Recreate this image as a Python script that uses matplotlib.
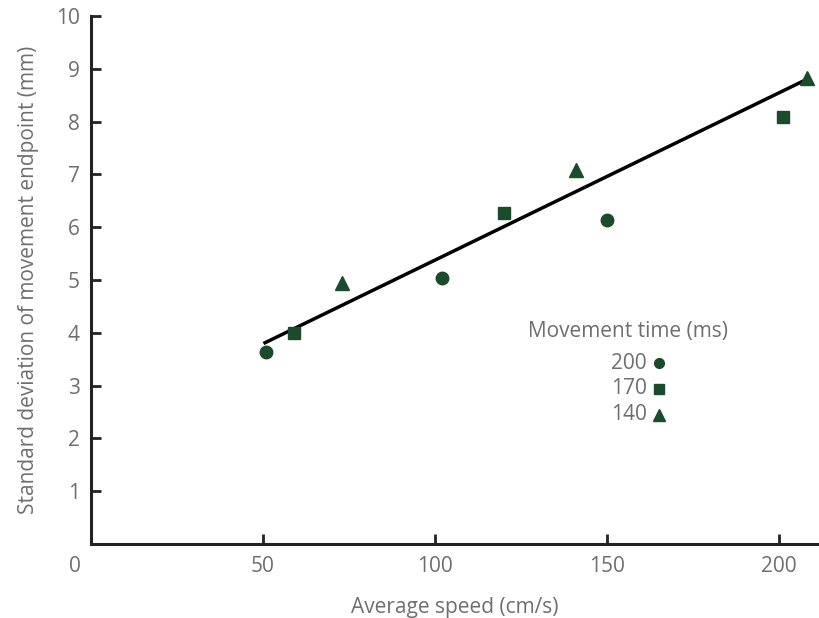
import matplotlib.pyplot as plt

plt.rcParams['font.family'] = ['Open Sans', 'DejaVu Sans']

# data
speed_200 = [51, 102, 150]
sd_200 = [3.64, 5.04, 6.14]
speed_170 = [59, 120, 201]
sd_170 = [4.0, 6.27, 8.09]
speed_140 = [73, 141, 208]
sd_140 = [4.94, 7.08, 8.83]

# regression line endpoints
fit_x = [50.6, 208]
fit_y = [3.81, 8.8]

x_ticks = [50, 100, 150, 200]
y_ticks = [1, 2, 3, 4, 5, 6, 7, 8, 9, 10]

green = '#1c4a2c'
grey = '#6e6e6e'
fs = 15

fig = plt.figure(figsize=(8.19, 6.18), dpi=100)
ax = fig.add_axes([0.111, 0.12, 0.889, 0.854])

ax.plot(fit_x, fit_y, color='black', lw=2.5, zorder=2)
ax.plot(speed_200, sd_200, 'o', color=green, ms=9, zorder=3)
ax.plot(speed_170, sd_170, 's', color=green, ms=9, zorder=3)
ax.plot(speed_140, sd_140, '^', color=green, ms=10, zorder=3)

ax.set_xlim(0, 211.6)
ax.set_ylim(0, 10)
ax.set_xticks(x_ticks)
ax.set_yticks(y_ticks)

for s in ['top', 'right']:
    ax.spines[s].set_visible(False)
for s in ['left', 'bottom']:
    ax.spines[s].set_linewidth(2.2)
    ax.spines[s].set_color('#222222')

ax.tick_params(direction='in', length=7, width=2, color='#222222',
               labelsize=fs, labelcolor=grey)
ax.tick_params(axis='x', pad=9)
ax.tick_params(axis='y', pad=8)

# lone origin label
ax.text(-4.6, -0.43, '0', ha='center', va='center', fontsize=fs, color=grey,
        clip_on=False)

ax.set_xlabel('Average speed (cm/s)', fontsize=fs, color=grey, labelpad=14)
ax.set_ylabel('Standard deviation of movement endpoint (mm)', fontsize=fs,
              color=grey, labelpad=12)

# hand-drawn legend
ax.text(127, 4.03, 'Movement time (ms)', ha='left', va='center', fontsize=fs,
        color=grey)
legend_labels = ['200', '170', '140']
legend_markers = ['o', 's', '^']
legend_y = [3.42, 2.94, 2.45]
for lab, mk, yy in zip(legend_labels, legend_markers, legend_y):
    ax.text(161.5, yy, lab, ha='right', va='center', fontsize=fs, color=grey)
    ax.plot(165, yy, mk, color=green, ms=7 if mk != '^' else 8)

fig.savefig('out.png', dpi=100)
